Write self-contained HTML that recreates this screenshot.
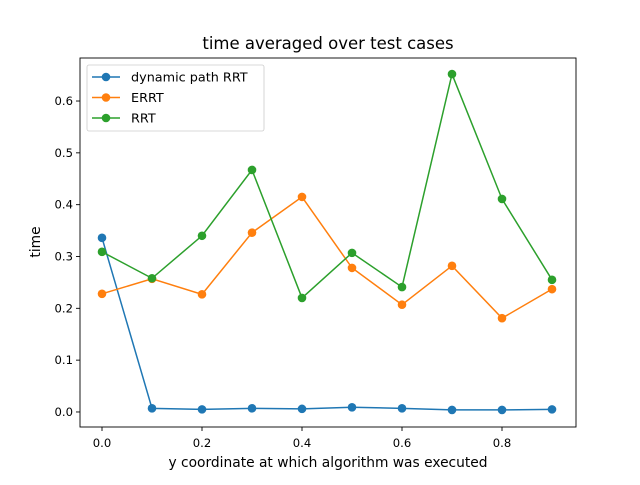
<!DOCTYPE html>
<html><head><meta charset="utf-8"><style>
body{margin:0;background:#fff}
svg{font-family:"DejaVu Sans","Liberation Sans",sans-serif}
</style></head><body>
<svg id="chart" width="640" height="480" xmlns="http://www.w3.org/2000/svg">
<rect width="640" height="480" fill="#fff"/>
<text x="328" y="49" font-size="16.5" text-anchor="middle">time averaged over test cases</text>
<g id="axes"></g>
<g id="series"></g>
<rect x="80" y="58" width="496" height="369" fill="none" stroke="#000" stroke-width="0.9"/>
<g>
<rect x="87" y="65" width="177" height="66" rx="2" fill="#fff" fill-opacity="0.8" stroke="#ccc" stroke-width="0.8"/>
<g id="legend-items"></g>
</g>
<text x="328" y="467" font-size="13.8" text-anchor="middle">y coordinate at which algorithm was executed</text>
<text x="40" y="242" font-size="13.8" text-anchor="middle" transform="rotate(-90 40 242)">time</text>
</svg>
<script>
const xValues=[0,0.1,0.2,0.3,0.4,0.5,0.6,0.7,0.8,0.9];
const dynamicPath=[0.336,0.007,0.005,0.007,0.006,0.009,0.007,0.004,0.004,0.005];
const errt=[0.228,0.257,0.227,0.346,0.415,0.278,0.207,0.282,0.181,0.237];
const rrt=[0.309,0.258,0.340,0.467,0.220,0.307,0.241,0.652,0.411,0.255];
const seriesNames=["dynamic path RRT","ERRT","RRT"];
const xTicks=[0,0.2,0.4,0.6,0.8];
const yTicks=[0,0.1,0.2,0.3,0.4,0.5,0.6];
const NS="http://www.w3.org/2000/svg";
const X0=80,X1=576,Y0=58,Y1=427,xmin=-0.044,xmax=0.948,ymin=-0.029,ymax=0.683;
const sx=v=>X0+(v-xmin)/(xmax-xmin)*(X1-X0);
const sy=v=>Y1-(v-ymin)/(ymax-ymin)*(Y1-Y0);
function mk(t,a,p){const e=document.createElementNS(NS,t);for(const k in a)e.setAttribute(k,a[k]);p.appendChild(e);return e;}
const axes=document.getElementById('axes');
xTicks.forEach(v=>{const x=sx(v);
mk('line',{x1:x,x2:x,y1:Y1,y2:Y1+4,stroke:'#000','stroke-width':0.9},axes);
const t=mk('text',{x:x,y:Y1+20,'font-size':11.6,'text-anchor':'middle'},axes);t.textContent=v.toFixed(1);

});
yTicks.forEach(v=>{const y=sy(v);
mk('line',{x1:X0-4,x2:X0,y1:y,y2:y,stroke:'#000','stroke-width':0.9},axes);
const t=mk('text',{x:X0-7,y:y+4,'font-size':11.6,'text-anchor':'end'},axes);t.textContent=v.toFixed(1);

});
const colors=['#1f77b4','#ff7f0e','#2ca02c'];
const data=[dynamicPath,errt,rrt];
const sg=document.getElementById('series');
data.forEach((d,i)=>{
const g=mk('g',{},sg);


mk('polyline',{points:d.map((v,j)=>sx(xValues[j])+','+sy(v)).join(' '),fill:'none',stroke:colors[i],'stroke-width':1.5},g);
d.forEach((v,j)=>{const c=mk('circle',{cx:sx(xValues[j]),cy:sy(v),r:4.3,fill:colors[i]},g);

});
});
const lg=document.getElementById('legend-items');
seriesNames.forEach((n,i)=>{const y=77+i*20.5;
const g=mk('g',{},lg);


mk('line',{x1:92,x2:120,y1:y,y2:y,stroke:colors[i],'stroke-width':1.5},g);
mk('circle',{cx:106,cy:y,r:4.3,fill:colors[i]},g);
const t=mk('text',{x:131,y:y+4.5,'font-size':12.8},g);t.textContent=n;});
</script>
</body></html>
